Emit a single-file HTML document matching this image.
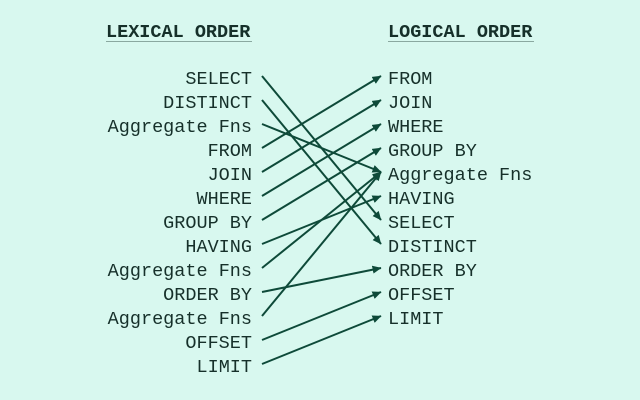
<!DOCTYPE html>
<html><head><style>
html,body{margin:0;padding:0;background:#d8f8ef;}
svg{display:block}
text{font-family:"Liberation Mono","DejaVu Sans Mono",monospace;font-size:18.5px;fill:#16302a;}
.h{font-weight:bold;}
</style></head><body>
<svg width="640" height="400" viewBox="0 0 640 400">
<defs><marker id="a" markerWidth="9" markerHeight="8" refX="8.5" refY="4" orient="auto" markerUnits="userSpaceOnUse"><path d="M0,0 L9,4 L0,8 z" fill="#0e4a39"/></marker></defs>
<text class="h" x="106" y="37">LEXICAL ORDER</text>
<line x1="106" y1="41.5" x2="252" y2="41.5" stroke="#8aa8a0" stroke-width="1"/>
<text class="h" x="388" y="37">LOGICAL ORDER</text>
<line x1="388" y1="41.5" x2="534" y2="41.5" stroke="#8aa8a0" stroke-width="1"/>
<g text-anchor="end">
<text x="252" y="84">SELECT</text>
<text x="252" y="108">DISTINCT</text>
<text x="252" y="132">Aggregate Fns</text>
<text x="252" y="156">FROM</text>
<text x="252" y="180">JOIN</text>
<text x="252" y="204">WHERE</text>
<text x="252" y="228">GROUP BY</text>
<text x="252" y="252">HAVING</text>
<text x="252" y="276">Aggregate Fns</text>
<text x="252" y="300">ORDER BY</text>
<text x="252" y="324">Aggregate Fns</text>
<text x="252" y="348">OFFSET</text>
<text x="252" y="372">LIMIT</text>
</g>
<g>
<text x="388" y="84">FROM</text>
<text x="388" y="108">JOIN</text>
<text x="388" y="132">WHERE</text>
<text x="388" y="156">GROUP BY</text>
<text x="388" y="180">Aggregate Fns</text>
<text x="388" y="204">HAVING</text>
<text x="388" y="228">SELECT</text>
<text x="388" y="252">DISTINCT</text>
<text x="388" y="276">ORDER BY</text>
<text x="388" y="300">OFFSET</text>
<text x="388" y="324">LIMIT</text>
</g>
<g stroke="#0e4a39" stroke-width="2" marker-end="url(#a)">
<line x1="262" y1="76" x2="381" y2="220"/>
<line x1="262" y1="100" x2="381" y2="244"/>
<line x1="262" y1="124" x2="381" y2="172"/>
<line x1="262" y1="148" x2="381" y2="76"/>
<line x1="262" y1="172" x2="381" y2="100"/>
<line x1="262" y1="196" x2="381" y2="124"/>
<line x1="262" y1="220" x2="381" y2="148"/>
<line x1="262" y1="244" x2="381" y2="196"/>
<line x1="262" y1="268" x2="381" y2="172"/>
<line x1="262" y1="292" x2="381" y2="268"/>
<line x1="262" y1="316" x2="381" y2="172"/>
<line x1="262" y1="340" x2="381" y2="292"/>
<line x1="262" y1="364" x2="381" y2="316"/>
</g>
</svg>
</body></html>
